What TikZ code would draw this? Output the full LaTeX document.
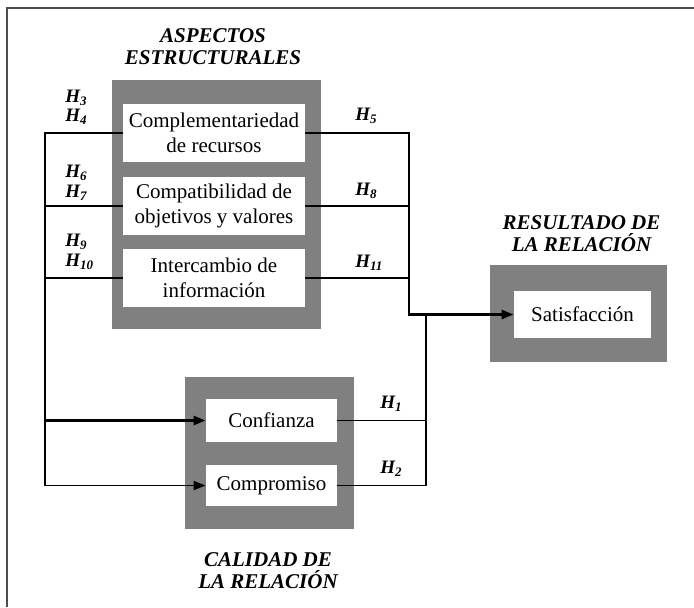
\documentclass[tikz,border=0pt]{standalone}
\usepackage{fontspec}
\setmainfont{Liberation Serif}
\usetikzlibrary{arrows.meta}
\newcommand{\hyp}[1]{H\raisebox{-0.45ex}{\fontsize{6.5}{6.5}\selectfont #1}}
\begin{document}
\begin{tikzpicture}[x=0.5pt,y=-0.5pt,
  wbox/.style={fill=white,draw=none,inner sep=0pt,align=center,
    font=\fontsize{10.5}{12.5}\selectfont},
  heading/.style={inner sep=0pt,align=center,anchor=north,
    font=\fontsize{10.5}{11}\selectfont\bfseries\itshape},
  hlab/.style={inner sep=0pt,anchor=base west,
    font=\fontsize{9.5}{10}\selectfont\bfseries\itshape},
  thk/.style={line width=1.3pt},
  med/.style={line width=0.85pt},
  tip/.style={-{Triangle[length=6pt,width=4.5pt]}}]
\useasboundingbox (0,0) rectangle (694,607);
% frame
\draw[line width=1pt,color=black!70] (7,607) -- (7,7.5) -- (694,7.5);
% gray panels
\fill[gray] (112,80) rectangle (321,329);
\fill[gray] (185,377) rectangle (354,529);
\fill[gray] (490,265) rectangle (667,362);
% white boxes
\node[wbox,minimum width=91pt,minimum height=29pt] (comp) at (214,133) {Complementariedad\\de recursos};
\node[wbox,minimum width=91pt,minimum height=29pt] (compat) at (214,206) {Compatibilidad de\\objetivos y valores};
\node[wbox,minimum width=91pt,minimum height=29pt] (inter) at (214,278) {Intercambio de\\información};
\node[wbox,minimum width=65.5pt,minimum height=21.5pt] (conf) at (271.5,420.5) {Confianza};
\node[wbox,minimum width=65.5pt,minimum height=20.5pt] (compro) at (271.5,485.5) {Compromiso};
\node[wbox,minimum width=68.5pt,minimum height=23.5pt] (sat) at (582.5,314.5) {Satisfacción};
% headings
\node[heading] (hA) at (213,28) {ASPECTOS\\ESTRUCTURALES};
\node[heading] (hR) at (581.5,215) {RESULTADO DE\\LA RELACIÓN};
\node[heading] (hC) at (268,552) {CALIDAD DE\\LA RELACIÓN};
% hypothesis labels
\node[hlab] (h3) at (65,102) {\hyp{3}};
\node[hlab] (h4) at (65,121) {\hyp{4}};
\node[hlab] (h6) at (65,177) {\hyp{6}};
\node[hlab] (h7) at (65,197) {\hyp{7}};
\node[hlab] (h9) at (65,246) {\hyp{9}};
\node[hlab] (h10) at (65,266) {\hyp{10}};
\node[hlab] (h5) at (355,120) {\hyp{5}};
\node[hlab] (h8) at (355,195) {\hyp{8}};
\node[hlab] (h11) at (355,267) {\hyp{11}};
\node[hlab] (h1) at (380,408) {\hyp{1}};
\node[hlab] (h2) at (380,473) {\hyp{2}};
% coordinates
\coordinate (bl) at (45,420.5);
\coordinate (br) at (409,314.5);
\coordinate (bc) at (426,314.5);
% left connectors
\draw[thk] (comp.west) -- (comp.west -| bl) -- (bl);
\draw[thk,tip] (bl) -- (conf.west);
\draw[med] (compat.west) -- (compat.west -| bl);
\draw[med] (inter.west) -- (inter.west -| bl);
\draw[med,tip] (bl) -- (bl |- compro.west) -- (compro.west);
% right connectors
\draw[thk,tip] (comp.east) -| (br) -- (sat.west);
\draw[med] (compat.east) -- (compat.east -| br);
\draw[med] (inter.east) -- (inter.east -| br);
\draw[thk] (bc) -- (bc |- compro.east);
\draw[med] (conf.east) -- (conf.east -| bc);
\draw[med] (compro.east) -- (compro.east -| bc);
\end{tikzpicture}
\end{document}
